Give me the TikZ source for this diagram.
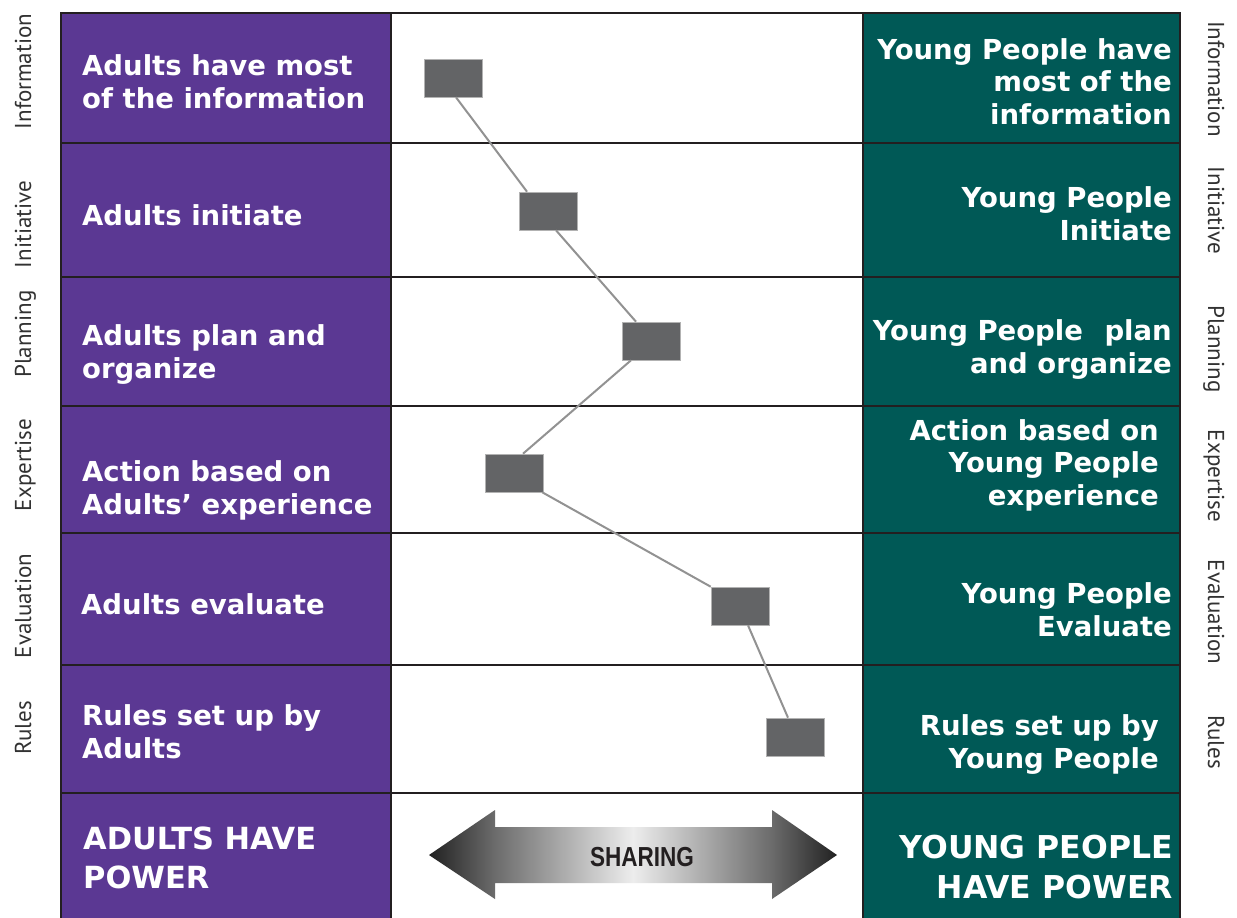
\documentclass[tikz,border=0pt]{standalone}
\usepackage{fontspec}
\setmainfont{DejaVu Sans}
\newfontfamily\sidefont{PT Sans}
\newfontfamily\sharefont[FakeStretch=0.82]{Liberation Sans}
\usetikzlibrary{calc}
\definecolor{adultpurple}{RGB}{91,56,147}
\definecolor{youthteal}{RGB}{0,89,86}
\definecolor{gridline}{RGB}{35,31,32}
\definecolor{markgray}{RGB}{99,100,102}
\definecolor{linkgray}{RGB}{146,146,146}
\definecolor{sidegray}{RGB}{50,50,50}
\definecolor{sharetext}{RGB}{35,31,32}
\pgfdeclarehorizontalshading{sharingshade}{100bp}{rgb(0bp)=(0.13,0.13,0.13); rgb(25bp)=(0.13,0.13,0.13); rgb(33bp)=(0.42,0.42,0.42); rgb(50bp)=(0.93,0.93,0.93); rgb(67bp)=(0.42,0.42,0.42); rgb(75bp)=(0.13,0.13,0.13); rgb(100bp)=(0.13,0.13,0.13)}
\begin{document}
\begin{tikzpicture}[x=1pt,y=-1pt,
  celltext/.style={text=white, font=\bfseries\fontsize{27.5}{32.5}\selectfont, inner sep=0pt},
  leftcell/.style={celltext, anchor=base west, align=left},
  rightcell/.style={celltext, anchor=base east, align=right},
  powerleft/.style={text=white, font=\bfseries\fontsize{30.5}{39}\selectfont, inner sep=0pt, anchor=base west, align=left},
  powerright/.style={text=white, font=\bfseries\fontsize{31.5}{40}\selectfont, inner sep=0pt, anchor=base east, align=right},
  sidelabel/.style={font=\sidefont\fontsize{23}{25}\selectfont, text=sidegray, inner sep=0pt, anchor=base},
  marker/.style={rectangle, fill=markgray, draw=black!30, line width=0.6pt, minimum width=58pt, minimum height=38pt, inner sep=0pt},
  link/.style={draw=linkgray, line width=2pt},
  gridrule/.style={draw=gridline, line width=2pt}
]
\useasboundingbox (0,0) rectangle (1237,918);
\fill[white] (0,0) rectangle (1237,918);

% columns
\fill[adultpurple] (61,12.5) rectangle (391,918);
\fill[youthteal] (863,12.5) rectangle (1180,918);

% grid
\foreach \yy in {12.5,143.3,276.7,405.5,533,665,792.7}
  \draw[gridrule] (60,\yy) -- (1181,\yy);
\foreach \xx in {61,391,863,1180}
  \draw[gridrule] (\xx,12.5) -- (\xx,918);

% side labels left
\node[sidelabel, rotate=90] (lInfo) at (31,71.5) {Information};
\node[sidelabel, rotate=90] (lInit) at (31,224.5) {Initiative};
\node[sidelabel, rotate=90] (lPlan) at (31,334) {Planning};
\node[sidelabel, rotate=90] (lExp)  at (31,465) {Expertise};
\node[sidelabel, rotate=90] (lEval) at (31,606) {Evaluation};
\node[sidelabel, rotate=90] (lRule) at (31,728) {Rules};

% side labels right
\node[sidelabel, rotate=-90] (rInfo) at (1208,79) {Information};
\node[sidelabel, rotate=-90] (rInit) at (1208,210.5) {Initiative};
\node[sidelabel, rotate=-90] (rPlan) at (1208,349) {Planning};
\node[sidelabel, rotate=-90] (rExp)  at (1208,476) {Expertise};
\node[sidelabel, rotate=-90] (rEval) at (1208,612) {Evaluation};
\node[sidelabel, rotate=-90] (rRule) at (1208,742) {Rules};

% left texts (anchor = baseline of last line)
\node[leftcell] (a1) at (82,108) {Adults have most\\of the information};
\node[leftcell] (a2) at (82,225) {Adults initiate};
\node[leftcell] (a3) at (82,378) {Adults plan and\\organize};
\node[leftcell] (a4) at (82,514) {Action based on\\Adults’ experience};
\node[leftcell] (a5) at (81,614) {Adults evaluate};
\node[leftcell] (a6) at (82,758) {Rules set up by\\Adults};
\node[powerleft] (a7) at (83,888) {ADULTS HAVE\\POWER};

% right texts (anchor = baseline of last line)
\node[rightcell] (y1) at (1172,124) {Young People have\\most of the\\information};
\node[rightcell] (y2) at (1172,240) {Young People\\Initiate};
\node[rightcell] (y3) at (1172,373) {Young People\hspace{12pt} plan\\and organize};
\node[rightcell] (y4) at (1159,505) {Action based on\\Young People\\experience};
\node[rightcell] (y5) at (1172,636) {Young People\\Evaluate};
\node[rightcell] (y6) at (1159,768) {Rules set up by\\Young People};
\node[powerright] (y7) at (1173,898) {YOUNG PEOPLE\\HAVE POWER};

% markers
\node[marker] (s1) at (453,78) {};
\node[marker] (s2) at (548,211) {};
\node[marker] (s3) at (651,341) {};
\node[marker] (s4) at (514,473) {};
\node[marker] (s5) at (740,606) {};
\node[marker] (s6) at (795,737) {};

% links
\draw[link] ([xshift=3pt]s1.south) -- ([xshift=-21pt]s2.north);
\draw[link] ([xshift=8pt]s2.south) -- ([xshift=-15pt]s3.north);
\draw[link] ([xshift=-20pt]s3.south) -- ([xshift=9pt]s4.north);
\draw[link] ([xshift=-1pt]s4.south east) -- (s5.north west);
\draw[link] ([xshift=8pt]s5.south) -- ([xshift=-7pt]s6.north);

% sharing arrow
\shade[shading=sharingshade] (429,855) -- (495,810) -- (495,827) -- (772,827) -- (772,810) -- (837,855) -- (772,899) -- (772,883) -- (495,883) -- (495,899) -- cycle;
\node[font=\sharefont\bfseries\fontsize{27.5}{30}\selectfont, text=sharetext, anchor=base, inner sep=0pt] (share) at (642,866) {SHARING};
\end{tikzpicture}
\end{document}
